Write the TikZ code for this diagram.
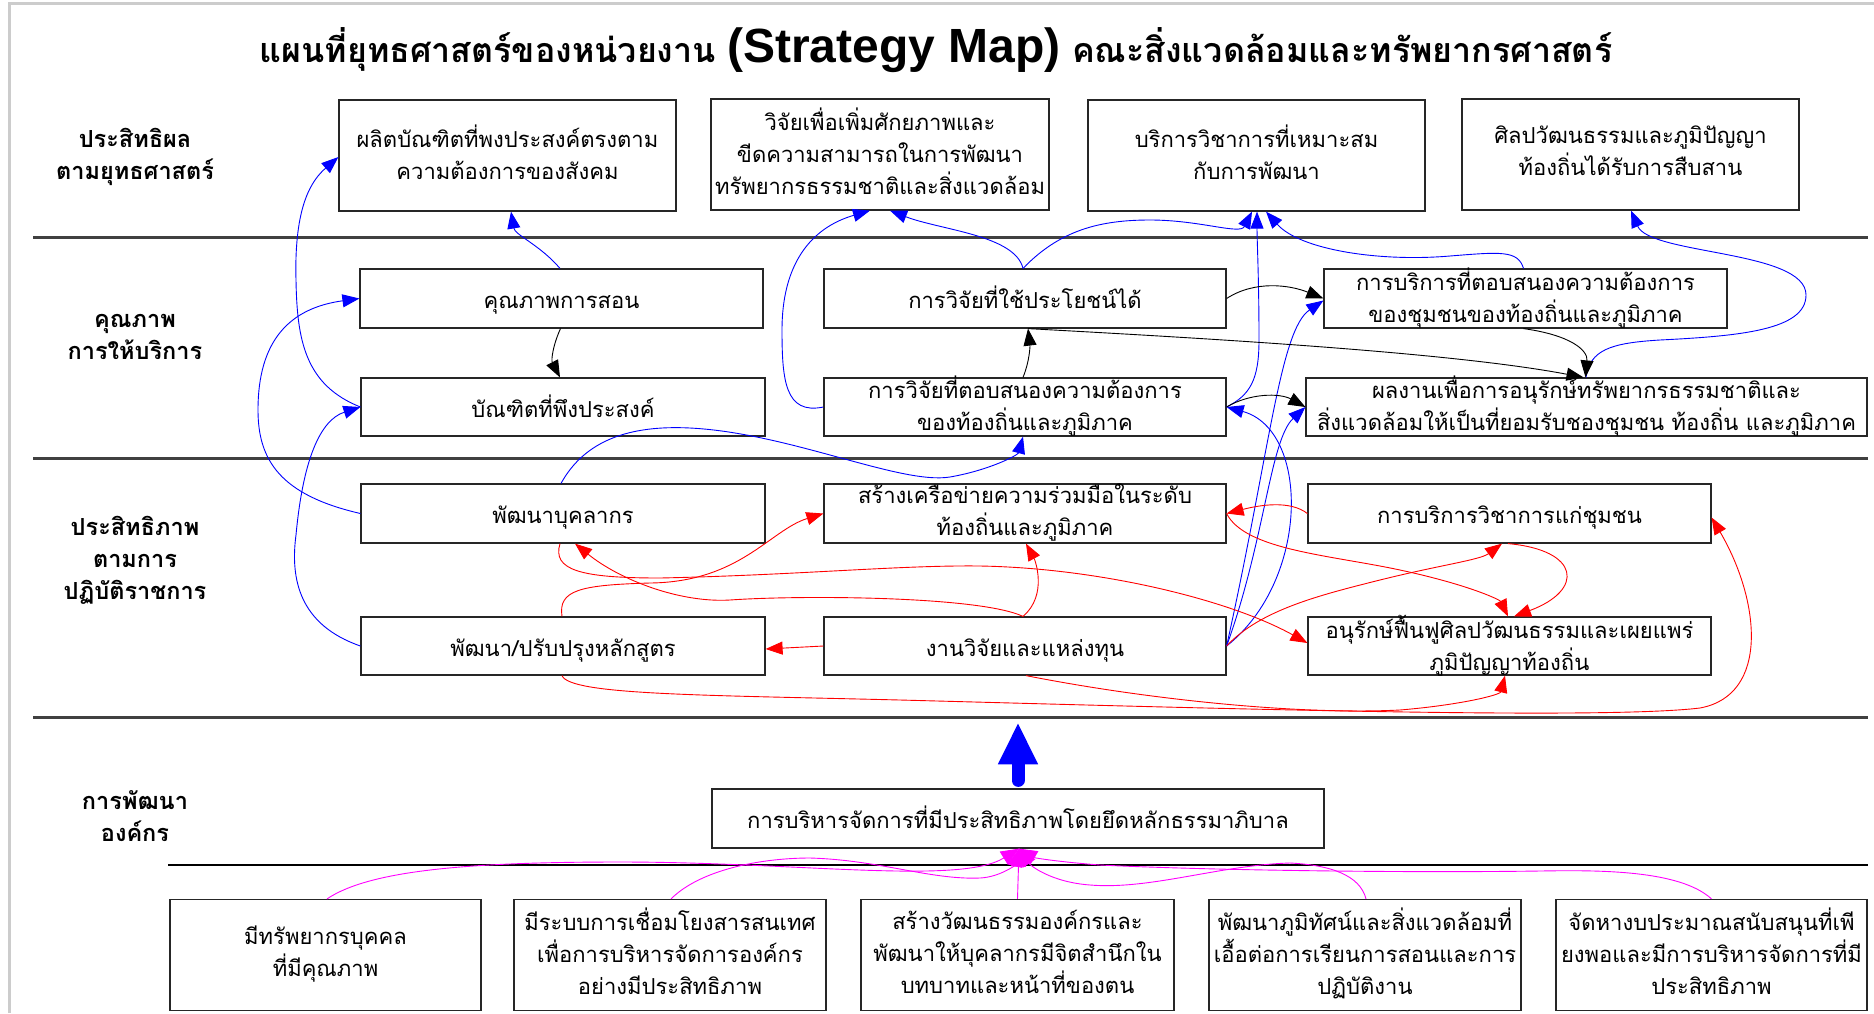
\documentclass[tikz,border=0pt]{standalone}
\usepackage{fontspec}
\newfontfamily\thai[Script=Thai]{Loma}
\newfontfamily\latinb{Liberation Sans}
\usetikzlibrary{arrows.meta,calc}
\definecolor{mag}{RGB}{255,0,255}
\newcommand\mystrut{\rule[-7pt]{0pt}{34pt}}
\tikzset{
  box/.style={draw=black!85, line width=1.2pt, fill=white, inner sep=0pt},
  txt/.style={inner sep=0pt, align=center, font=\thai\fontsize{22}{32}\selectfont,
    execute at begin node=\mystrut, execute at end node=\mystrut},
  lbl/.style={inner sep=0pt, align=center, font=\thai\bfseries\fontsize{23.5}{32}\selectfont,
    execute at begin node=\mystrut, execute at end node=\mystrut},
  sep/.style={draw=black!75, line width=3pt},
  bl/.style={draw=blue, line width=0.9pt, -{Triangle[length=17pt,width=13pt]}},
  bk/.style={draw=black, line width=0.9pt, -{Triangle[length=17pt,width=13pt]}},
  rd/.style={draw=red, line width=0.9pt, -{Triangle[length=17pt,width=13pt]}},
  mg/.style={draw=mag, line width=0.9pt, -{Triangle[length=18pt,width=15pt]}},
}
\begin{document}
\begin{tikzpicture}[x=1pt,y=-1pt]
\useasboundingbox (0,0) rectangle (1874,1013);
\fill[white] (0,0) rectangle (1874,1013);
% frame
\draw[black!20, line width=3pt] (9,1013) -- (9,3) -- (1874,3);
% separators
\draw[sep] (33,237) -- (1868,237);
\draw[sep] (33,458) -- (1868,458);
\draw[sep] (33,717) -- (1868,717);
\draw[black, line width=2pt] (168,865) -- (1868,865);
% title
\node[inner sep=0pt] (title) at (936,50) {\thai\bfseries\fontsize{34}{40}\selectfont แผนที่ยุทธศาสตร์ของหน่วยงาน {\latinb\bfseries\fontsize{48}{50}\selectfont (Strategy Map)} คณะสิ่งแวดล้อมและทรัพยากรศาสตร์};
% left labels
\node[lbl] (L1) at (135,157) {ประสิทธิผล\\ตามยุทธศาสตร์};
\node[lbl] (L2) at (135,340) {คุณภาพ\\การให้บริการ};
\node[lbl] (L3) at (135,561) {ประสิทธิภาพ\\ตามการ\\ปฏิบัติราชการ};
\node[lbl] (L4) at (135,820) {การพัฒนา\\องค์กร};
% row A
\node[box, minimum width=337pt, minimum height=111pt] (A1) at (507.5,155.5) {};
\node[box, minimum width=338pt, minimum height=111pt] (A2) at (880,154.5) {};
\node[box, minimum width=337pt, minimum height=111pt] (A3) at (1256.5,155.5) {};
\node[box, minimum width=337pt, minimum height=111pt] (A4) at (1630.5,154.5) {};
\node[txt] (A1t) at (A1) {ผลิตบัณฑิตที่พงประสงค์ตรงตาม\\ความต้องการของสังคม};
\node[txt] (A2t) at (A2) {วิจัยเพื่อเพิ่มศักยภาพและ\\ขีดความสามารถในการพัฒนา\\ทรัพยากรธรรมชาติและสิ่งแวดล้อม};
\node[txt] (A3t) at (A3) {บริการวิชาการที่เหมาะสม\\กับการพัฒนา};
\node[txt] (A4t) at (A4) {ศิลปวัฒนธรรมและภูมิปัญญา\\ท้องถิ่นได้รับการสืบสาน};
% row B
\node[box, minimum width=403pt, minimum height=59pt] (B1) at (561.5,298.5) {};
\node[box, minimum width=404pt, minimum height=58pt] (B2) at (563,407) {};
\node[box, minimum width=402pt, minimum height=59pt] (B3) at (1025,298.5) {};
\node[box, minimum width=402pt, minimum height=58pt] (B4) at (1025,407) {};
\node[box, minimum width=403pt, minimum height=59pt] (B5) at (1525.5,298.5) {};
\node[box, minimum width=561pt, minimum height=58pt] (B6) at (1586.5,407) {};
\node[txt] (B1t) at (B1) {คุณภาพการสอน};
\node[txt] (B2t) at (B2) {บัณฑิตที่พึงประสงค์};
\node[txt] (B3t) at (B3) {การวิจัยที่ใช้ประโยชน์ได้};
\node[txt] (B4t) at (B4) {การวิจัยที่ตอบสนองความต้องการ\\ของท้องถิ่นและภูมิภาค};
\node[txt] (B5t) at (B5) {การบริการที่ตอบสนองความต้องการ\\ของชุมชนของท้องถิ่นและภูมิภาค};
\node[txt] (B6t) at (B6) {ผลงานเพื่อการอนุรักษ์ทรัพยากรธรรมชาติและ\\สิ่งแวดล้อมให้เป็นที่ยอมรับชองชุมชน ท้องถิ่น และภูมิภาค};
% row C
\node[box, minimum width=404pt, minimum height=59pt] (C1) at (563,513.5) {};
\node[box, minimum width=402pt, minimum height=59pt] (C2) at (1025,513.5) {};
\node[box, minimum width=403pt, minimum height=59pt] (C3) at (1509.5,513.5) {};
\node[box, minimum width=404pt, minimum height=58pt] (C4) at (563,646) {};
\node[box, minimum width=402pt, minimum height=58pt] (C5) at (1025,646) {};
\node[box, minimum width=403pt, minimum height=58pt] (C6) at (1509.5,646) {};
\node[txt] (C1t) at (C1) {พัฒนาบุคลากร};
\node[txt] (C2t) at (C2) {สร้างเครือข่ายความร่วมมือในระดับ\\ท้องถิ่นและภูมิภาค};
\node[txt] (C3t) at (C3) {การบริการวิชาการแก่ชุมชน};
\node[txt] (C4t) at (C4) {พัฒนา/ปรับปรุงหลักสูตร};
\node[txt] (C5t) at (C5) {งานวิจัยและแหล่งทุน};
\node[txt] (C6t) at (C6) {อนุรักษ์ฟื้นฟูศิลปวัฒนธรรมและเผยแพร่\\ภูมิปัญญาท้องถิ่น};
% row D
\node[box, minimum width=612pt, minimum height=59pt] (D1) at (1018,818.5) {};
\node[txt] (D1t) at (D1) {การบริหารจัดการที่มีประสิทธิภาพโดยยึดหลักธรรมาภิบาล};
% row E
\node[box, minimum width=311pt, minimum height=111pt] (E1) at (325.5,955) {};
\node[box, minimum width=312pt, minimum height=111pt] (E2) at (670,955) {};
\node[box, minimum width=313pt, minimum height=111pt] (E3) at (1017.5,955) {};
\node[box, minimum width=312pt, minimum height=111pt] (E4) at (1365,955) {};
\node[box, minimum width=311pt, minimum height=111pt] (E5) at (1711.5,955) {};
\node[txt] (E1t) at (E1) {มีทรัพยากรบุคคล\\ที่มีคุณภาพ};
\node[txt] (E2t) at (E2) {มีระบบการเชื่อมโยงสารสนเทศ\\เพื่อการบริหารจัดการองค์กร\\อย่างมีประสิทธิภาพ};
\node[txt] (E3t) at (E3) {สร้างวัฒนธรรมองค์กรและ\\พัฒนาให้บุคลากรมีจิตสำนึกใน\\บทบาทและหน้าที่ของตน};
\node[txt] (E4t) at (E4) {พัฒนาภูมิทัศน์และสิ่งแวดล้อมที่\\เอื้อต่อการเรียนการสอนและการ\\ปฏิบัติงาน};
\node[txt] (E5t) at (E5) {จัดหางบประมาณสนับสนุนที่เพี\\ยงพอและมีการบริหารจัดการที่มี\\ประสิทธิภาพ};
% big arrow
\draw[blue, line width=13pt, line cap=round, -{Triangle[length=42pt,width=37pt]}] ([yshift=8pt]D1.north) -- ([yshift=66pt]D1.north);
% ---- blue connectors
\draw[bl] ([xshift=-1.5pt]B1.north) .. controls (540,245) and (515,235) .. ([xshift=3.5pt]A1.south);
\draw[bl] (B2.west) .. controls (305,385) and (297,340) .. (296,280) .. controls (294,205) and (312,180) .. ([yshift=-1.5pt]A1.west);
\draw[bl] (C1.west) .. controls (280,495) and (258,460) .. (258,410) .. controls (258,340) and (290,308) .. (B1.west);
\draw[bl] (C4.west) .. controls (300,625) and (290,580) .. (296,535) .. controls (303,460) and (320,420) .. (B2.west);
\draw[bl] ([xshift=-2pt]C1.north) .. controls (585,440) and (630,425) .. (690,428) .. controls (790,433) and (900,485) .. (950,477) .. controls (990,470) and (1018,455) .. ([xshift=-2pt]B4.south);
\draw[bl] (B4.west) .. controls (785,415) and (782,380) .. (782,330) .. controls (782,265) and (810,228) .. ([xshift=-10pt]A2.south);
\draw[bl] ([xshift=-2pt]B3.north) .. controls (1015,235) and (940,230) .. ([xshift=10pt]A2.south);
\draw[bl] ([xshift=-2pt]B3.north) .. controls (1060,230) and (1100,220) .. (1150,220) .. controls (1200,220) and (1240,235) .. ([xshift=-4.5pt]A3.south);
\draw[bl] (B4.east) .. controls (1250,395) and (1259,380) .. (1259,340) .. controls (1259,280) and (1257,240) .. ([xshift=0.5pt]A3.south);
\draw[bl] ([xshift=-2pt]B5.north) .. controls (1518,250) and (1500,252) .. (1450,256) .. controls (1380,262) and (1300,250) .. ([xshift=9.5pt]A3.south);
\draw[bl] ([xshift=-0.5pt]B6.north) .. controls (1590,350) and (1610,343) .. (1660,340) .. controls (1740,336) and (1806,330) .. (1806,295) .. controls (1806,250) and (1650,255) .. ([xshift=0.5pt]A4.south);
\draw[bl] (C5.east) .. controls (1270,450) and (1280,330) .. ([yshift=-2pt]B5.west);
\draw[bl] (C5.east) .. controls (1265,540) and (1270,440) .. (B6.west);
\draw[bl] (C5.east) .. controls (1310,580) and (1310,430) .. (B4.east);
% ---- black connectors
\draw[bk] ([xshift=-1pt]B1.south) .. controls (553,345) and (551,360) .. ([xshift=-3pt]B2.north);
\draw[bk] ([xshift=-2pt]B4.north) .. controls (1030,360) and (1030,345) .. ([xshift=3pt]B3.south);
\draw[bk] (B3.east) .. controls (1255,280) and (1290,285) .. (B5.west);
\draw[bk] ([xshift=3pt]B3.south) .. controls (1200,338) and (1450,352) .. ([xshift=-3pt]B6.north);
\draw[bk] ([xshift=-2pt]B5.south) .. controls (1570,335) and (1588,350) .. ([xshift=-1pt]B6.north);
\draw[bk] (B4.east) .. controls (1250,393) and (1280,393) .. (B6.west);
% ---- red connectors
\draw[rd] (C5.west) -- ([yshift=-3pt]C4.east);
\draw[rd] ([xshift=-2pt]C5.north) .. controls (1048,595) and (1035,560) .. ([xshift=1pt]C2.south);
\draw[rd] ([xshift=-1pt]C4.north) .. controls (558,590) and (580,585) .. (650,583) .. controls (740,582) and (770,530) .. (C2.west);
\draw[rd] ([xshift=-2pt]C5.north) .. controls (980,596) and (800,595) .. (730,600) .. controls (680,603) and (620,580) .. ([xshift=12pt]C1.south);
\draw[rd] ([xshift=-3pt]C1.south) .. controls (552,570) and (580,578) .. (660,578) .. controls (800,575) and (900,565) .. (980,566) .. controls (1100,568) and (1230,600) .. ([yshift=3pt]C6.west);
\draw[rd] (C2.east) .. controls (1245,550) and (1330,555) .. (1400,570) .. controls (1470,585) and (1500,600) .. ([xshift=-1.5pt]C6.north);
\draw[rd] ([xshift=-1.5pt]C3.south) .. controls (1580,550) and (1585,590) .. ([xshift=4.5pt]C6.north);
\draw[rd] (C3.west) .. controls (1290,500) and (1260,505) .. (C2.east);
\draw[rd] (C5.east) .. controls (1260,610) and (1320,595) .. (1380,580) .. controls (1440,565) and (1480,560) .. ([xshift=-7.5pt]C3.south);
\draw[rd] ([xshift=1pt]C5.south) .. controls (1150,700) and (1300,715) .. (1400,710) .. controls (1460,705) and (1500,695) .. ([xshift=-4.5pt]C6.south);
\draw[rd] ([xshift=-1pt]C4.south) .. controls (570,695) and (700,695) .. (900,700) .. controls (1200,708) and (1600,720) .. (1700,708) .. controls (1770,695) and (1760,600) .. ([yshift=-4pt]C3.east);
% ---- magenta connectors
\draw[mg] ([xshift=1.5pt]E1.north) .. controls (370,870) and (470,862) .. (620,862) .. controls (800,862) and (960,885) .. ([xshift=1pt]D1.south);
\draw[mg] ([xshift=1pt]E2.north) .. controls (700,870) and (760,858) .. (810,858) .. controls (880,860) and (930,880) .. (980,878) .. controls (1000,877) and (1015,865) .. ([xshift=1pt]D1.south);
\draw[mg] (E3.north) -- ([xshift=1pt]D1.south);
\draw[mg] ([xshift=1pt]E4.north) .. controls (1360,875) and (1330,865) .. (1290,863) .. controls (1220,865) and (1150,890) .. (1090,885) .. controls (1050,882) and (1030,865) .. ([xshift=1pt]D1.south);
\draw[mg] (E5.north) .. controls (1680,870) and (1600,870) .. (1540,871) .. controls (1400,873) and (1200,870) .. (1100,865) .. controls (1060,862) and (1035,858) .. ([xshift=1pt]D1.south);
\end{tikzpicture}
\end{document}
